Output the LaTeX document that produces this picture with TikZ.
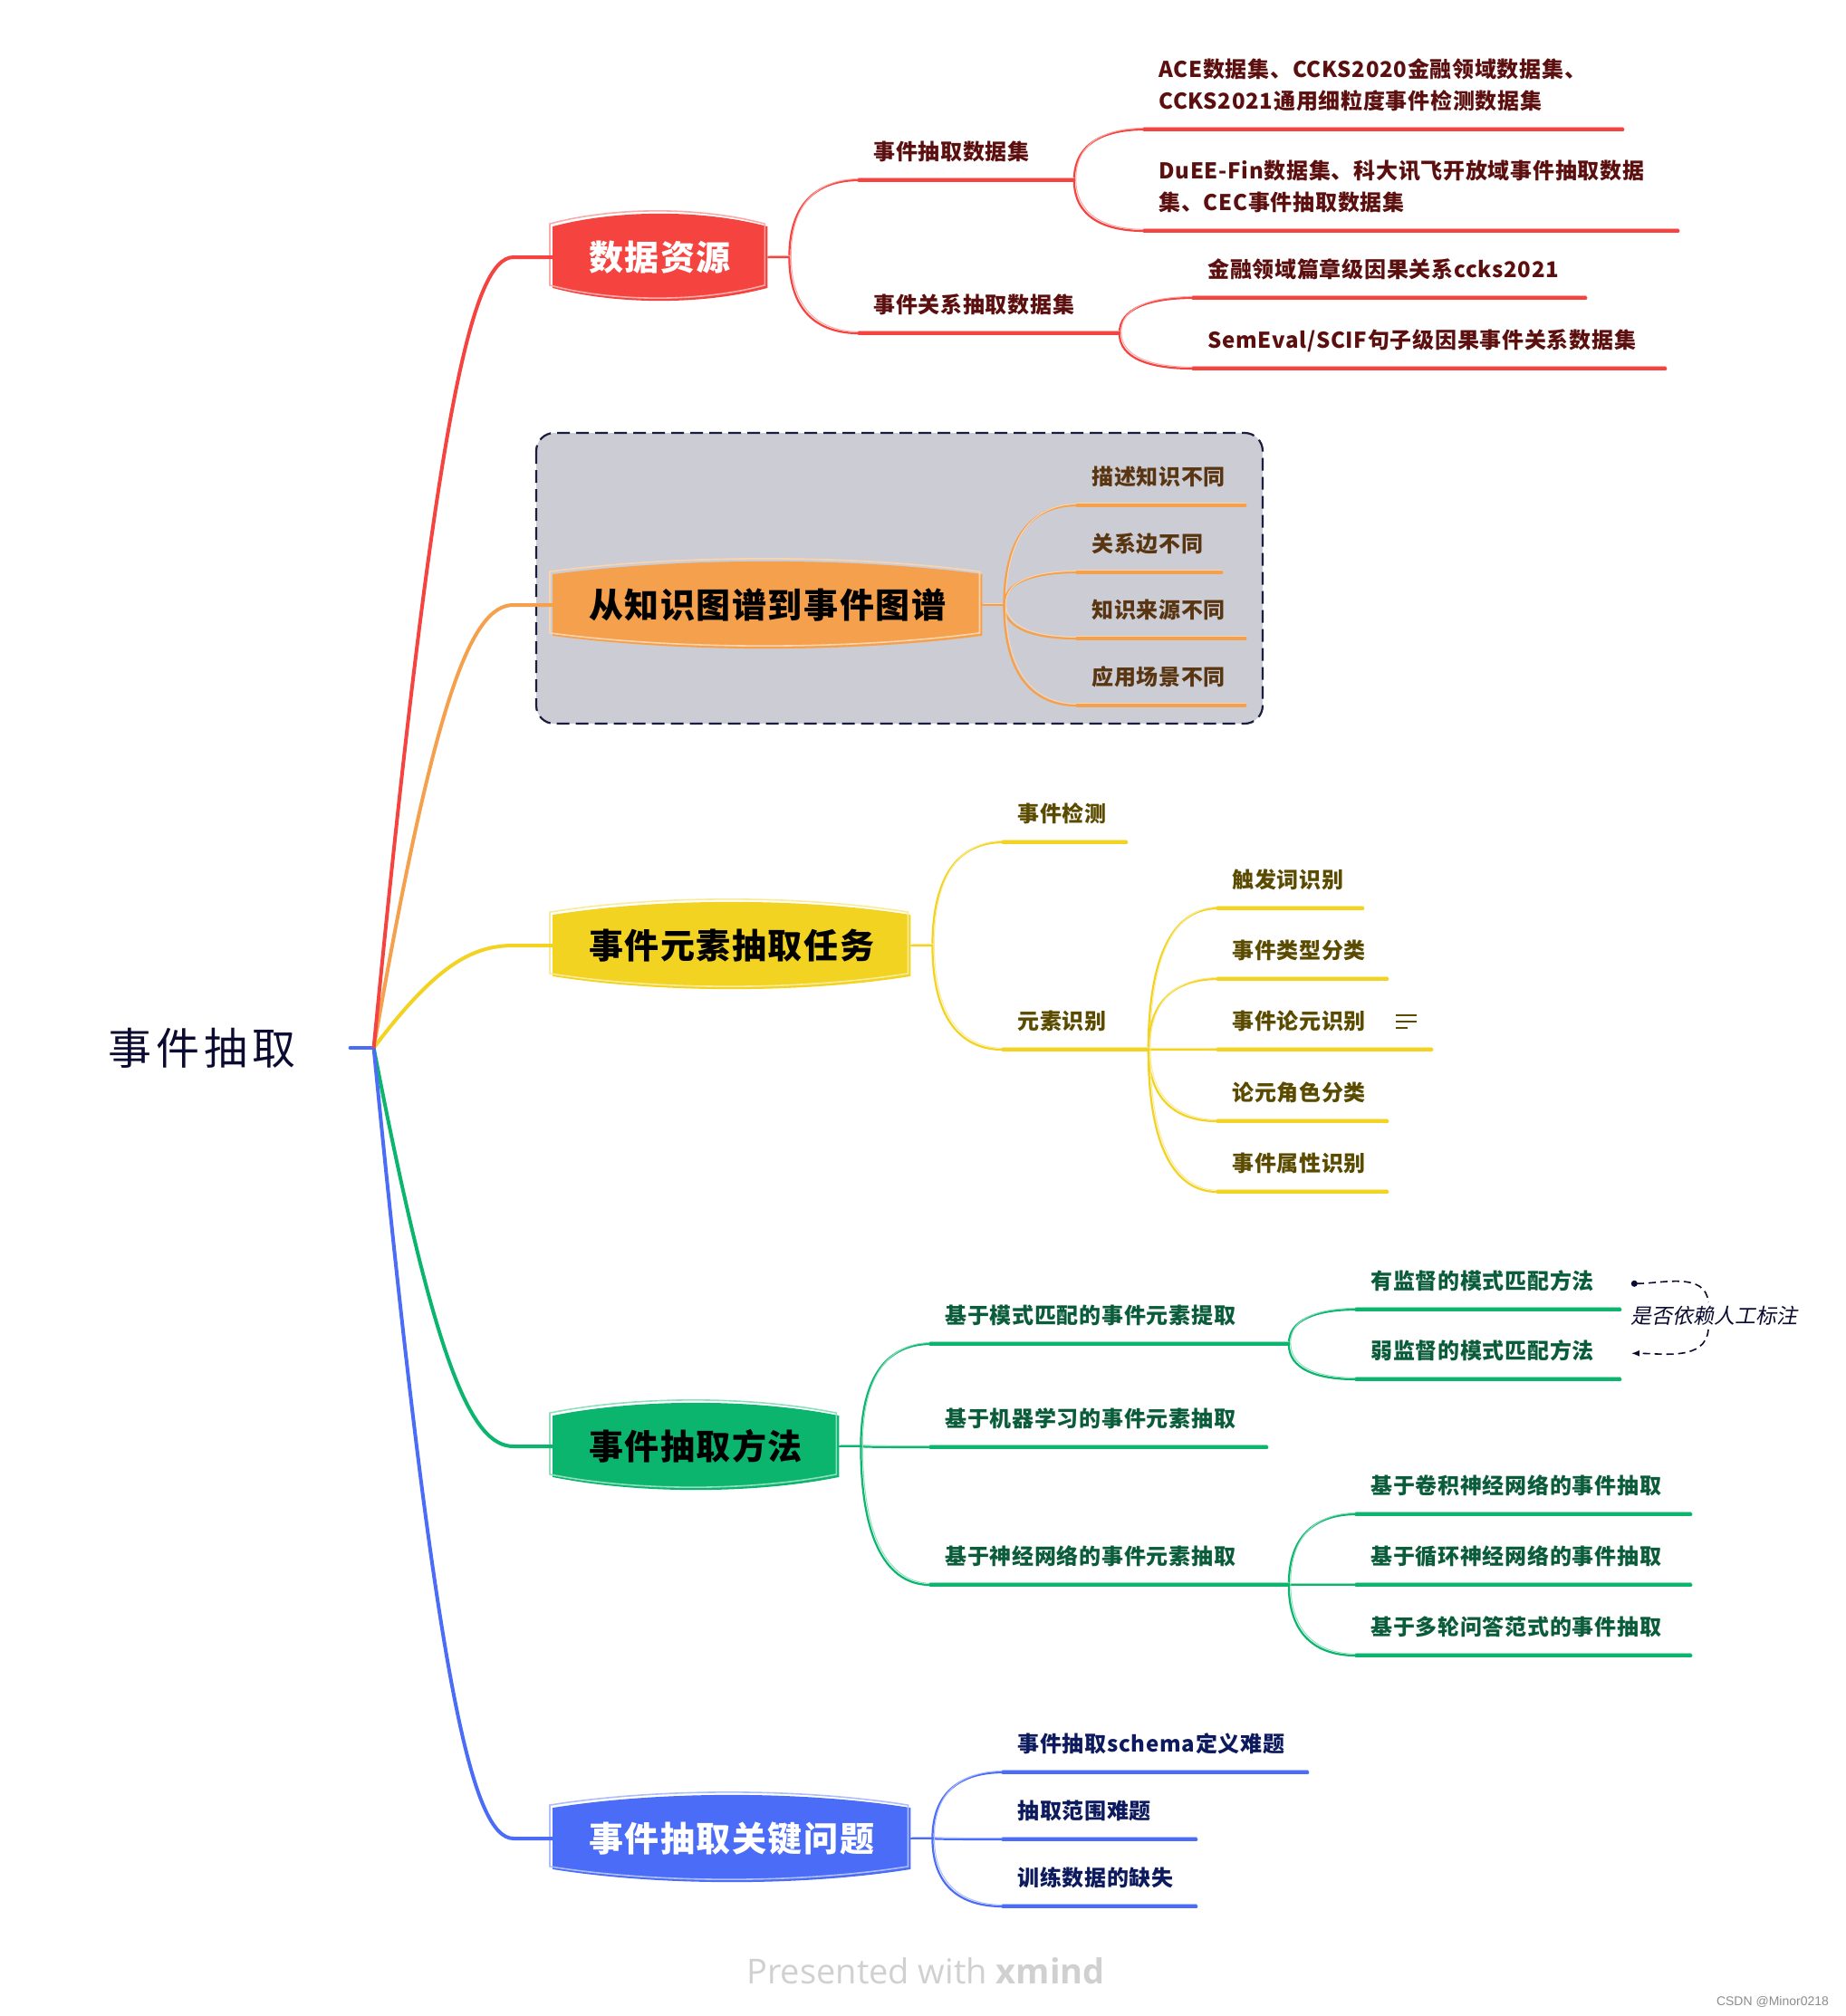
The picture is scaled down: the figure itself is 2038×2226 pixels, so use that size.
\documentclass[tikz,border=0pt]{standalone}
\usepackage{fontspec}
\setmainfont{Noto Sans CJK SC}
\newfontfamily\footfont{Open Sans}
\newfontfamily\markfont{Liberation Sans}
\usetikzlibrary{positioning, calc, backgrounds, arrows.meta}
\definecolor{cInk}      {HTML}{0B0B32}
\definecolor{cRed}      {HTML}{F5443F}
\definecolor{cRedInk}   {HTML}{5C0F0F}
\definecolor{cOrange}   {HTML}{F5A04C}
\definecolor{cOrangeInk}{HTML}{5A3512}
\definecolor{cYellow}   {HTML}{F2D321}
\definecolor{cYellowInk}{HTML}{5B4B00}
\definecolor{cGreen}    {HTML}{0BB56E}
\definecolor{cGreenInk} {HTML}{0A5C3A}
\definecolor{cBlue}     {HTML}{4A6CF6}
\definecolor{cBlueInk}  {HTML}{0D1A5E}
\definecolor{cPanel}    {HTML}{CBCCD4}
\definecolor{cBorder}   {HTML}{1B1D3F}
\definecolor{cFoot}     {HTML}{D0D0D0}
\newcommand\rootfont{\fontsize{24}{28}\selectfont\addfontfeature{LetterSpace=10}}
\newcommand\boxfont{\fontsize{19}{22}\selectfont\bfseries\addfontfeature{LetterSpace=4}}
\newcommand\topicfont{\fontsize{12}{17.7}\selectfont\bfseries\addfontfeature{LetterSpace=3}}
\newcommand\relfont{\fontsize{11.5}{14}\selectfont\addfontfeature{FakeSlant=0.2}}
% hand-drawn cushion behind a main topic
\newcommand\cushion[2]{%
  \path[fill=#2, postaction={draw=#2!45!white, line width=.8pt, transform canvas={shift={(-1.5pt,1.5pt)}}}]
    ($(#1.north west)+(0,14)$)
    .. controls ($(#1.north west)!0.3!(#1.north east)+(0,-5)$) and ($(#1.north west)!0.7!(#1.north east)+(0,-5)$) .. ($(#1.north east)+(0,14)$)
    -- ($(#1.south east)+(0,-14)$)
    .. controls ($(#1.south west)!0.7!(#1.south east)+(0,5)$) and ($(#1.south west)!0.3!(#1.south east)+(0,5)$) .. ($(#1.south west)+(0,-14)$)
    -- cycle;}

\begin{document}
\begin{tikzpicture}[x=0.5pt, y=-0.5pt,
    mainbox/.style={anchor=west, minimum height=47.5pt, inner xsep=20pt, font=\boxfont},
    topic/.style={anchor=south west, inner xsep=8pt, inner ysep=8.4pt, text height=9pt,
                  text depth=2.5pt, align=left, text width=#1, font=\topicfont},
    rtopic/.style={topic=#1, text=cRedInk},
    otopic/.style={topic=#1, text=cOrangeInk},
    ytopic/.style={topic=#1, text=cYellowInk},
    gtopic/.style={topic=#1, text=cGreenInk},
    btopic/.style={topic=#1, text=cBlueInk},
    twolines/.style={text depth=20.2pt},
    ul/.style={draw=#1, line width=1.6pt, line cap=round,
               postaction={draw=#1!45!white, line width=.6pt, transform canvas={yshift=1.4pt}}},
    wire/.style={draw=#1, line width=1.1pt,
                 postaction={draw=#1!45!white, line width=.5pt, transform canvas={shift={(1pt,.8pt)}}}},
    link/.style={to path={.. controls ($(\tikztostart)!0.7!(\tikztostart|-\tikztotarget)$)
                 and ($(\tikztotarget)!0.6!(\tikztostart|-\tikztotarget)$) .. (\tikztotarget)}},
    trunk/.style={draw=#1, line width=2pt,
                  to path={.. controls ($(\tikztostart)!0.8!(\tikztostart|-\tikztotarget)+(68,0)$)
                  and ($(\tikztotarget)!0.3!(\tikztostart|-\tikztotarget)$) .. (\tikztotarget)}},
    reldash/.style={draw=cInk, line width=.8pt, dash pattern=on 4pt off 2.5pt},
  ]
  \useasboundingbox (0,0) rectangle (2038,2226);

  % root
  \node[font=\rootfont, text=cInk, inner xsep=30pt] (root) at (223,1157) {事件抽取};
  \coordinate[right=13pt of root] (hub);

  % main topics
  \node[mainbox, text=white]   (src)  at (610,284)  {数据资源};
  \node[mainbox, text=black]   (kg)   at (610,668)  {从知识图谱到事件图谱};
  \node[mainbox, text=black]   (task) at (610,1044) {事件元素抽取任务};
  \node[mainbox, text=black]   (meth) at (610,1597) {事件抽取方法};
  \node[mainbox, text=white]   (key)  at (610,2030) {事件抽取关键问题};

  \begin{scope}[on background layer]
    \draw[draw=cBorder, fill=cPanel, line width=1.1pt, dash pattern=on 7pt off 3.5pt,
          rounded corners=10pt] (592,478) rectangle (1394,799);
    \cushion{src}{cRed}
    \cushion{kg}{cOrange}
    \cushion{task}{cYellow}
    \cushion{meth}{cGreen}
    \cushion{key}{cBlue}
  \end{scope}

  % trunks from the root
  \draw[cBlue, line width=2pt, line cap=round] (root.east) -- (hub);
  \coordinate[left=21.5pt of src]  (srcin);
  \coordinate[left=21.5pt of kg]   (kgin);
  \coordinate[left=21.5pt of task] (taskin);
  \coordinate[left=21.5pt of meth] (methin);
  \coordinate[left=21.5pt of key]  (keyin);
  \draw[trunk=cOrange] (hub) to (kgin) -- (kg.west);
  \draw[trunk=cYellow] (hub) to (taskin) -- (task.west);
  \draw[trunk=cGreen]  (hub) to (methin) -- (meth.west);
  \draw[trunk=cBlue]   (hub) to (keyin) -- (key.west);
  \draw[trunk=cRed]    (hub) to (srcin) -- (src.west);

  \coordinate[right=12pt of src]  (srcb);
  \coordinate[right=12pt of kg]   (kgb);
  \coordinate[right=12pt of task] (taskb);
  \coordinate[right=12pt of meth] (methb);
  \coordinate[right=12pt of key]  (keyb);

  % 数据资源
  \node[rtopic=102.5pt] (evds)  at (948,199)  {事件抽取数据集};
  \node[rtopic=127.5pt] (relds) at (948,368)  {事件关系抽取数据集};
  \node[rtopic=248pt, twolines]   (ace)  at (1263,143) {ACE数据集、CCKS2020金融领域数据集、\\CCKS2021通用细粒度事件检测数据集};
  \node[rtopic=278.5pt, twolines] (duee) at (1263,255) {DuEE-Fin数据集、科大讯飞开放域事件抽取数据\\集、CEC事件抽取数据集};
  \node[rtopic=200.5pt] (fin)   at (1317,329) {金融领域篇章级因果关系ccks2021};
  \node[rtopic=244.5pt] (sem)   at (1317,407) {SemEval/SCIF句子级因果事件关系数据集};
  \draw[wire=cRed] (src.east) -- (srcb) to[link] (evds.south west) (srcb) to[link] (relds.south west);
  \draw[wire=cRed] (evds.south east) to[link] (ace.south west) (evds.south east) to[link] (duee.south west);
  \draw[wire=cRed] (relds.south east) to[link] (fin.south west) (relds.south east) to[link] (sem.south west);
  \foreach \n in {evds, relds, ace, duee, fin, sem}
    \draw[ul=cRed] (\n.south west) -- (\n.south east);

  % 从知识图谱到事件图谱
  \node[otopic=76.5pt] (kg1) at (1189,558) {描述知识不同};
  \node[otopic=63.5pt] (kg2) at (1189,632) {关系边不同};
  \node[otopic=76.5pt] (kg3) at (1189,705) {知识来源不同};
  \node[otopic=76.5pt] (kg4) at (1189,779) {应用场景不同};
  \draw[wire=cOrange] (kg.east) -- (kgb);
  \foreach \n in {kg1, kg2, kg3, kg4} {
    \draw[wire=cOrange] (kgb) to[link] (\n.south west);
    \draw[ul=cOrange] (\n.south west) -- (\n.south east);
  }

  % 事件元素抽取任务
  \node[ytopic=52pt]    (det)  at (1107,930)  {事件检测};
  \node[ytopic=64pt]    (elem) at (1107,1159) {元素识别};
  \node[ytopic=64pt]    (trig) at (1344,1003) {触发词识别};
  \node[ytopic=77.5pt]  (typ)  at (1344,1081) {事件类型分类};
  \node[ytopic=102pt]   (arg)  at (1344,1159) {事件论元识别};
  \node[ytopic=77.5pt]  (role) at (1344,1238) {论元角色分类};
  \node[ytopic=77.5pt]  (attr) at (1344,1316) {事件属性识别};
  \draw[wire=cYellow] (task.east) -- (taskb) to[link] (det.south west) (taskb) to[link] (elem.south west);
  \foreach \n in {trig, typ, arg, role, attr}
    \draw[wire=cYellow] (elem.south east) to[link] (\n.south west);
  \foreach \n in {det, elem, trig, typ, arg, role, attr}
    \draw[ul=cYellow] (\n.south west) -- (\n.south east);
  \foreach \yy/\len in {-38/23, -31/23, -24/13}
    \draw[cYellowInk, line width=1.2pt] ([shift={(-40,\yy)}]arg.south east) -- ++(\len,0);

  % 事件抽取方法
  \node[gtopic=181.5pt] (pat)  at (1027,1484) {基于模式匹配的事件元素提取};
  \node[gtopic=169.5pt] (ml)   at (1027,1598) {基于机器学习的事件元素抽取};
  \node[gtopic=181.5pt] (nn)   at (1027,1750) {基于神经网络的事件元素抽取};
  \node[gtopic=129.5pt] (sup)  at (1497,1446) {有监督的模式匹配方法};
  \node[gtopic=129.5pt] (weak) at (1497,1523) {弱监督的模式匹配方法};
  \node[gtopic=168.5pt] (cnn)  at (1497,1672) {基于卷积神经网络的事件抽取};
  \node[gtopic=168.5pt] (rnn)  at (1497,1750) {基于循环神经网络的事件抽取};
  \node[gtopic=168.5pt] (qa)   at (1497,1828) {基于多轮问答范式的事件抽取};
  \draw[wire=cGreen] (meth.east) -- (methb);
  \foreach \n in {pat, ml, nn}
    \draw[wire=cGreen] (methb) to[link] (\n.south west);
  \foreach \n in {sup, weak}
    \draw[wire=cGreen] (pat.south east) to[link] (\n.south west);
  \foreach \n in {cnn, rnn, qa}
    \draw[wire=cGreen] (nn.south east) to[link] (\n.south west);
  \foreach \n in {pat, ml, nn, sup, weak, cnn, rnn, qa}
    \draw[ul=cGreen] (\n.south west) -- (\n.south east);

  % relationship
  \node[font=\relfont, text=cInk, inner sep=2pt] (rel) at (1892,1453) {是否依赖人工标注};
  \draw[reldash, {Circle[length=3.5pt]}-] ([xshift=6pt]sup.east) to[out=0, in=95] ([xshift=-3pt]rel.north);
  \draw[reldash, -{Latex[length=4.5pt]}] ([xshift=-3pt]rel.south) to[out=-95, in=0] ([xshift=6pt]weak.east);

  % 事件抽取关键问题
  \node[btopic=152pt]  (schema) at (1107,1957) {事件抽取schema定义难题};
  \node[btopic=90.5pt] (scope)  at (1107,2031) {抽取范围难题};
  \node[btopic=90.5pt] (data)   at (1107,2105) {训练数据的缺失};
  \draw[wire=cBlue] (key.east) -- (keyb);
  \foreach \n in {schema, scope, data} {
    \draw[wire=cBlue] (keyb) to[link] (\n.south west);
    \draw[ul=cBlue] (\n.south west) -- (\n.south east);
  }

  % footer
  \node[font=\footfont\fontsize{19}{22}\selectfont, text=cFoot] (foot) at (1022,2176) {Presented with \textbf{xmind}};
  \node[font=\markfont\fontsize{7}{8}\selectfont, text=black!45, anchor=east] (mark) at (2026,2210) {CSDN @Minor0218};
\end{tikzpicture}
\end{document}
